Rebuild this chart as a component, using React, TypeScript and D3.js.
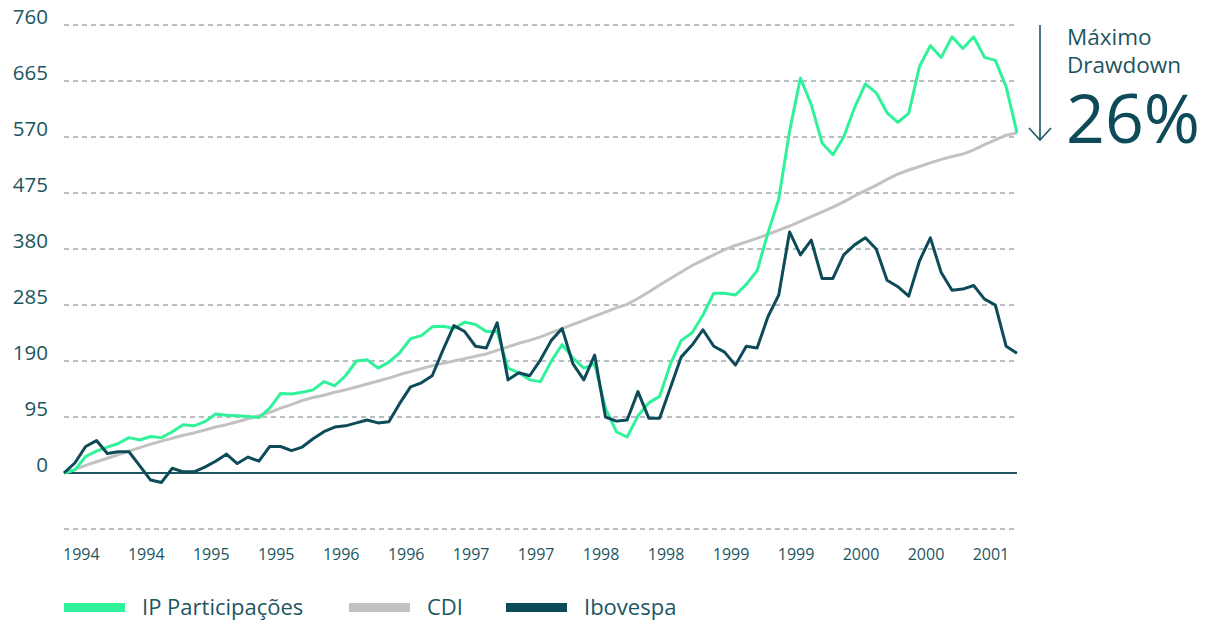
import * as d3 from "d3";
import { useEffect, useRef } from "react";

// monthly values, Jan 1994 .. May 2001 (index 0..88)
const ipValues = [
  0, 5, 28, 37, 44, 50, 60, 56, 62, 60, 70, 82, 80, 87, 100, 98, 97, 96, 94, 110,
  135, 134, 137, 141, 155, 148, 165, 190, 192, 178, 188, 204, 228, 233, 248, 249, 245, 256, 252, 240,
  240, 178, 170, 158, 155, 190, 218, 195, 178, 185, 110, 70, 61, 97, 119, 130, 185, 225, 238, 268,
  305, 305, 302, 320, 343, 407, 465, 580, 670, 625, 560, 540, 570, 620, 660, 645, 611, 595, 610, 690,
  725, 705, 740, 720, 740, 705, 700, 655, 577,
];
const cdiValues = [
  0, 6, 13, 19, 25, 31, 37, 43, 49, 54, 59, 64, 68, 73, 78, 82, 87, 92, 97, 103,
  110, 116, 123, 128, 132, 137, 141, 146, 151, 156, 161, 167, 172, 177, 182, 186, 190, 194, 198, 202,
  208, 214, 220, 225, 231, 238, 245, 252, 259, 266, 273, 280, 286, 296, 307, 319, 330, 341, 352, 361,
  370, 379, 386, 392, 398, 405, 412, 419, 427, 435, 443, 451, 460, 470, 479, 488, 498, 507, 514, 520,
  526, 532, 537, 541, 548, 557, 565, 573, 577,
];
const iboValues = [
  0, 17, 45, 55, 33, 36, 36, 12, -12, -16, 8, 2, 2, 10, 20, 32, 16, 27, 20, 45,
  45, 38, 44, 58, 70, 78, 80, 85, 90, 85, 87, 118, 146, 153, 165, 209, 250, 240, 215, 212,
  255, 158, 170, 165, 192, 225, 245, 185, 158, 200, 95, 88, 90, 138, 93, 93, 145, 197, 217, 243,
  215, 205, 183, 215, 212, 265, 302, 409, 370, 395, 330, 330, 370, 387, 399, 380, 327, 316, 300, 360,
  399, 340, 310, 312, 318, 295, 285, 215, 203,
];

const yTicks = [-95, 0, 95, 190, 285, 380, 475, 570, 665, 760];
const xTickIndex = [0, 6, 12, 18, 24, 30, 36, 42, 48, 54, 60, 66, 72, 78, 84];
const xTickLabels = ["1994", "1994", "1995", "1995", "1996", "1996", "1997", "1997", "1998", "1998", "1999", "1999", "2000", "2000", "2001"];

const seriesNames = ["IP Participações", "CDI", "Ibovespa"];
const seriesColors = ["#30f29b", "#c2c2c2", "#0e4b59"];

const App = () => {
  const svgRef = useRef<SVGSVGElement>(null);

  useEffect(() => {
    const svg = d3.select(svgRef.current);
    svg.selectAll("*").remove();

    const width = 1219;
    const height = 624;
    const font = "'Open Sans', sans-serif";
    const textColor = "#1d5561";

    svg.attr("width", width).attr("height", height);

    const x = d3.scaleLinear().domain([0, 88]).range([64, 1017]);
    const y = d3.scaleLinear().domain([-95, 760]).range([529, 25]);

    // grid
    svg.append("g")
      .selectAll("line")
      .data(yTicks)
      .enter()
      .append("line")
      .attr("x1", 64)
      .attr("x2", 1017)
      .attr("y1", (d) => y(d))
      .attr("y2", (d) => y(d))
      .attr("stroke", (d) => (d === 0 ? "#1d5561" : "#6f7f84"))
      .attr("stroke-width", (d) => (d === 0 ? 2 : 1))
      .attr("stroke-dasharray", (d) => (d === 0 ? null : "5,4"));

    // y labels
    svg.append("g")
      .selectAll("text")
      .data(yTicks.filter((d) => d >= 0))
      .enter()
      .append("text")
      .attr("x", 48)
      .attr("y", (d) => y(d) - 1)
      .attr("text-anchor", "end")
      .attr("font-family", font)
      .attr("font-size", 20.5)
      .attr("fill", textColor)
      .text((d) => d);

    // x labels
    svg.append("g")
      .selectAll("text")
      .data(xTickIndex)
      .enter()
      .append("text")
      .attr("x", (d) => x(d) - 1)
      .attr("y", 560)
      .attr("font-family", font)
      .attr("font-size", 16)
      .attr("fill", textColor)
      .text((d, i) => xTickLabels[i]);

    const line = d3.line<number>()
      .x((d, i) => x(i))
      .y((d) => y(d));

    const allSeries = [cdiValues, ipValues, iboValues];
    const colorOrder = [seriesColors[1], seriesColors[0], seriesColors[2]];
    allSeries.forEach((s, k) => {
      svg.append("path")
        .datum(s)
        .attr("d", line)
        .attr("fill", "none")
        .attr("stroke", colorOrder[k])
        .attr("stroke-width", 3)
        .attr("stroke-linejoin", "round");
    });

    // drawdown annotation
    const ann = svg.append("g").attr("stroke", "#1d5561").attr("fill", "none").attr("stroke-width", 1.6);
    ann.append("line").attr("x1", 1040).attr("x2", 1040).attr("y1", 25).attr("y2", 140);
    ann.append("path").attr("d", "M1029,128 L1040,140 L1051,128");

    svg.append("text")
      .attr("x", 1067).attr("y", 45)
      .attr("font-family", font).attr("font-size", 22.5).attr("fill", textColor)
      .text("Máximo");
    svg.append("text")
      .attr("x", 1067).attr("y", 73)
      .attr("font-family", font).attr("font-size", 22.5).attr("fill", textColor)
      .text("Drawdown");
    svg.append("text")
      .attr("x", 1066).attr("y", 143)
      .attr("font-family", font).attr("font-size", 68).attr("fill", "#0e4b59")
      .text("26%");

    // legend
    const legendX = [64, 349, 506];
    seriesNames.forEach((name, i) => {
      svg.append("rect")
        .attr("x", legendX[i]).attr("y", 603)
        .attr("width", 61).attr("height", 9)
        .attr("fill", seriesColors[i]);
      svg.append("text")
        .attr("x", legendX[i] + 78).attr("y", 615)
        .attr("font-family", font).attr("font-size", 22).attr("fill", textColor)
        .text(name);
    });
  }, []);

  return <svg ref={svgRef} style={{ position: "absolute", left: 0, top: 0 }}></svg>;
};

export default App;
